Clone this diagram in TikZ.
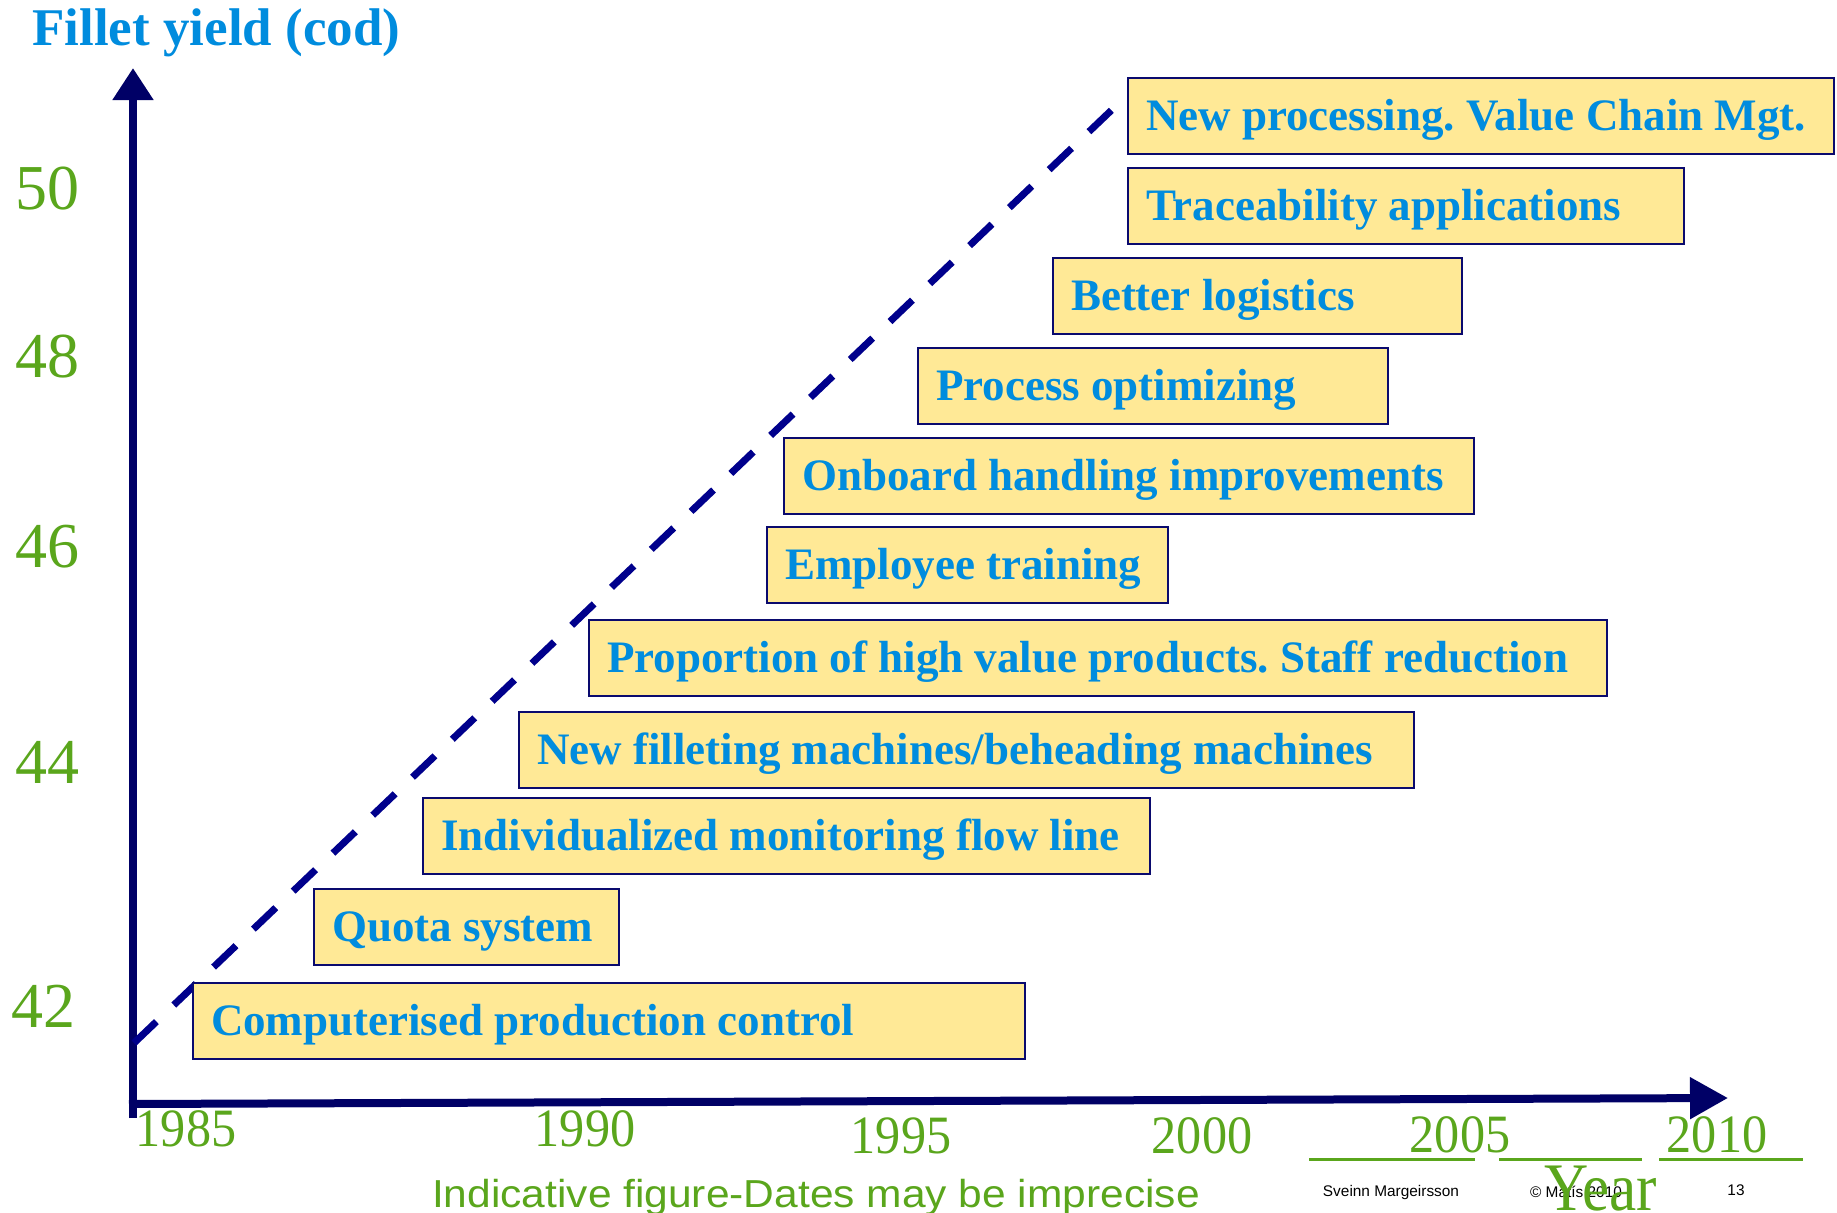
\documentclass[tikz,border=0pt]{standalone}
\usepackage{fontspec}
\usepackage{graphicx}
\setmainfont{Liberation Serif}
\newfontfamily\sansf{Liberation Sans}
\usetikzlibrary{arrows.meta}
\frenchspacing
\definecolor{axisnavy}{RGB}{0,0,102}
\definecolor{dashnavy}{RGB}{0,0,140}
\definecolor{boxfill}{RGB}{255,233,150}
\definecolor{boxline}{RGB}{10,10,110}
\definecolor{txtblue}{RGB}{0,140,222}
\definecolor{lgreen}{RGB}{90,166,28}
\newcommand\bxt[2]{\makebox[#1][l]{#2}}
\tikzset{
  itembox/.style={draw=boxline, line width=1.25pt, fill=boxfill, anchor=north west,
    inner xsep=9pt, inner ysep=0pt, minimum height=38pt, text=txtblue,
    font=\fontsize{22.5}{24}\selectfont\bfseries, text height=14.9pt, text depth=0pt, outer sep=0pt},
  ylab/.style={text=lgreen, font=\fontsize{32}{34}\selectfont, anchor=west, inner sep=0pt, text height=21.8pt, text depth=0pt},
  xlab/.style={text=lgreen, font=\fontsize{27}{29}\selectfont, anchor=center, inner sep=0pt, text height=18.4pt, text depth=0pt},
  foot/.style={font=\sansf\fontsize{7.7}{9}\selectfont, inner sep=0pt, anchor=center},
  axisline/.style={draw=axisnavy, line width=4pt},
  uline/.style={draw=lgreen, line width=1.5pt}
}
\begin{document}
\begin{tikzpicture}[x=0.5pt, y=-0.5pt]
\useasboundingbox[fill=white] (0,0) rectangle (1837,1212);

% title
\node[anchor=base west, inner sep=0pt, text=txtblue, font=\fontsize{26.5}{28}\selectfont\bfseries] (title) at (32,45) {Fillet yield (cod)};

% axes
\coordinate (ybot) at (133,1118);
\coordinate (ytop) at (133,68);
\coordinate (xleft) at (129,1104);
\coordinate (xright) at (1728,1098);
\draw[axisline, -{Triangle[width=19.5pt,length=16pt]}] (ybot) -- (ytop);
\draw[axisline, -{Triangle[width=20pt,length=19pt]}] (xleft) -- (xright);

% dashed trend
\coordinate (dstart) at (134,1043);
\coordinate (dend) at (1119,103);
\draw[draw=dashnavy, line width=3.5pt, dash pattern=on 15.5pt off 12pt] (dstart) -- (dend);

% y labels
\node[ylab] (y50) at (15,188) {50};
\node[ylab] (y48) at (15,356) {48};
\node[ylab] (y46) at (15,546) {46};
\node[ylab] (y44) at (15,762) {44};
\node[ylab] (y42) at (11,1006) {42};

% x labels
\node[xlab] (x1985) at (186,1128) {\scalebox{0.93}[1]{1985}};
\node[xlab] (x1990) at (585,1128) {\scalebox{0.93}[1]{1990}};
\node[xlab] (x1995) at (901,1135) {\scalebox{0.93}[1]{1995}};
\node[xlab] (x2000) at (1202,1135) {\scalebox{0.93}[1]{2000}};
\node[xlab] (x2005) at (1460,1134) {\scalebox{0.93}[1]{2005}};
\node[xlab] (x2010) at (1717,1134) {\scalebox{0.93}[1]{2010}};
\coordinate (u1a) at (1309,1159); \coordinate (u1b) at (1475,1159);
\coordinate (u2a) at (1499,1159); \coordinate (u2b) at (1642,1159);
\coordinate (u3a) at (1659,1159); \coordinate (u3b) at (1803,1159);
\draw[uline] (u1a) -- (u1b);
\draw[uline] (u2a) -- (u2b);
\draw[uline] (u3a) -- (u3b);

% boxes
\node[itembox] (b1) at (1128,78) {\bxt{335pt}{New processing. Value Chain Mgt.}};
\node[itembox] (b2) at (1128,168) {\bxt{260pt}{Traceability applications}};
\node[itembox] (b3) at (1053,258) {\bxt{186.5pt}{Better logistics}};
\node[itembox] (b4) at (918,348) {\bxt{217pt}{Process optimizing}};
\node[itembox] (b5) at (784,438) {\bxt{327pt}{Onboard handling improvements}};
\node[itembox] (b6) at (767,527) {\bxt{182.5pt}{Employee training}};
\node[itembox] (b7) at (589,620) {\bxt{491pt}{Proportion of high value products. Staff reduction}};
\node[itembox] (b8) at (519,712) {\bxt{429.5pt}{New filleting machines/beheading machines}};
\node[itembox] (b9) at (423,798) {\bxt{345.5pt}{Individualized monitoring flow line}};
\node[itembox] (b10) at (314,889) {\bxt{134.5pt}{Quota system}};
\node[itembox] (b11) at (193,983) {\bxt{398pt}{Computerised production control}};

% footer
\node[anchor=base, inner sep=0pt, text=lgreen, font=\sansf\fontsize{19.5}{21}\selectfont] (note) at (816,1207) {\scalebox{1.09}[1]{Indicative figure-Dates may be imprecise}};
\node[foot] (author) at (1391,1192) {Sveinn Margeirsson};
\node[foot] (copy) at (1576,1192) {© Matís 2010};
\node[foot] (page) at (1736,1190) {13};
\node[anchor=base west, inner sep=0pt, text=lgreen, font=\fontsize{34}{36}\selectfont] (year) at (1544,1210) {\scalebox{0.9}[1]{Year}};
\end{tikzpicture}
\end{document}
